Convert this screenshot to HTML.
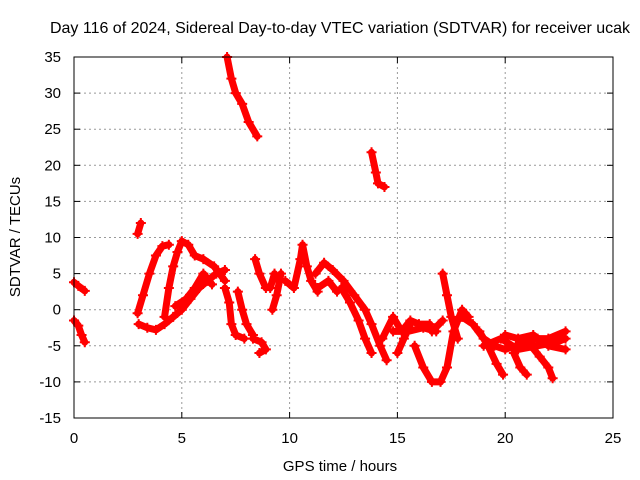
<!DOCTYPE html>
<html><head><meta charset="utf-8"><style>
body{margin:0;background:#fff}
svg{display:block;font-family:"Liberation Sans",sans-serif;font-size:15px}
</style></head><body>
<svg id="chart" width="640" height="480" viewBox="0 0 640 480">
<text x="340" y="33" text-anchor="middle" font-size="16">Day 116 of 2024, Sidereal Day-to-day VTEC variation (SDTVAR) for receiver ucak</text>
<text x="340" y="471" text-anchor="middle">GPS time / hours</text>
<text transform="translate(20,237) rotate(-90)" text-anchor="middle">SDTVAR / TECUs</text>
<g id="grid"></g><g id="ticks"></g><g id="marks"></g>
<rect x="74" y="57" width="539" height="361" fill="none" stroke="#000" stroke-width="1"/>
</svg>
<script>
const xTicks=[0,5,10,15,20,25];
const yTicks=[-15,-10,-5,0,5,10,15,20,25,30,35];
const tracks=[
[[0,3.8],[0.2,3.3],[0.5,2.6]],
[[0,-1.5],[0.2,-2.2],[0.35,-3.5],[0.5,-4.5]],
[[2.95,10.5],[3.1,12]],
[[2.95,-0.5],[3.2,2],[3.5,5],[3.8,7.5],[4.1,8.8],[4.4,9]],
[[3.0,-2],[3.4,-2.5],[3.8,-2.8],[4.2,-2],[4.6,-1],[5.0,0],[5.4,1.5],[5.8,3],[6.2,4],[6.6,5],[7,5.5]],
[[4.2,-1],[4.4,3],[4.6,6],[4.8,8],[5.0,9.5],[5.3,9],[5.6,7.5],[6,7],[6.5,6],[7,4]],
[[4.7,0.5],[5.2,1.5],[5.6,3],[6,5],[6.4,3.5]],
[[7,3],[7.2,1],[7.3,-2],[7.5,-3.5],[7.9,-4]],
[[7.6,2.5],[7.8,0],[8,-2],[8.3,-3.5]],
[[8.4,7],[8.6,5],[8.9,3]],
[[8.3,-4],[8.7,-4.5],[8.9,-5.5],[8.6,-6]],
[[9.1,3],[9.3,5],[9.5,4]],
[[9.2,0],[9.4,2],[9.6,5]],
[[7.1,35],[7.3,32],[7.5,30],[7.8,28.5],[8.1,26],[8.5,24]],
[[13.8,21.8],[14,19],[14.1,17.5],[14.4,17]],
[[9.8,4],[10.2,3],[10.5,7],[10.6,9],[10.8,6],[11,4],[11.3,2.5]],
[[11.2,5],[11.6,6.5],[12,5.5],[12.5,4],[13,2],[13.5,0],[13.8,-2],[14.2,-5],[14.5,-7]],
[[11.3,3],[11.8,4],[12.2,2.5]],
[[12.4,3],[12.8,1],[13.2,-1.5],[13.5,-4],[13.8,-6]],
[[14.3,-4],[14.8,-1],[15.2,-3],[15.6,-1.5],[16,-2],[16.5,-2]],
[[15,-6],[15.3,-4],[15.6,-2]],
[[14.8,-3],[15.5,-3],[16.2,-2.5],[16.8,-3]],
[[15.8,-5],[16.2,-8],[16.6,-10],[17,-10],[17.3,-8],[17.6,-3],[18,0],[18.3,-1]],
[[17.1,5],[17.3,2],[17.5,-1],[17.8,-4]],
[[16.6,-3],[17.1,-1.5]],
[[18,-1],[18.5,-2],[19,-4],[19.5,-5],[20,-5.5],[20.5,-5],[21,-4.5],[21.5,-4],[22,-4],[22.8,-3]],
[[18.8,-3],[19.2,-5],[19.6,-7.5],[19.9,-9]],
[[20.4,-6],[20.7,-8],[21,-9]],
[[21.2,-5],[21.6,-6.5],[22,-8],[22.2,-9.5]],
[[20,-3.5],[20.6,-4],[21.3,-3.5],[22,-5],[22.8,-5.5]],
[[19,-5],[19.8,-4],[20.6,-5.5],[21.5,-5],[22.4,-4.5],[22.8,-4]]
];
const NS="http://www.w3.org/2000/svg";
const X=t=>74+t*(539/25), Y=v=>418-(v+15)*(361/50);
const grid=document.getElementById('grid'),ticks=document.getElementById('ticks'),marks=document.getElementById('marks');
function mk(tag,attrs,parent){const e=document.createElementNS(NS,tag);for(const k in attrs)e.setAttribute(k,attrs[k]);parent.appendChild(e);return e;}
xTicks.forEach(t=>{
 if(t>0&&t<25){const g=mk('line',{x1:X(t),x2:X(t),y1:57,y2:418,stroke:'#999','stroke-dasharray':'2,3'},grid);
 
 }
 mk('line',{x1:X(t),x2:X(t),y1:418,y2:412,stroke:'#000'},ticks);mk('line',{x1:X(t),x2:X(t),y1:57,y2:63,stroke:'#000'},ticks);
 const l=mk('text',{x:X(t),y:443,'text-anchor':'middle'},ticks);l.textContent=t;
 
 
});
yTicks.forEach(v=>{
 if(v>-15&&v<35){const g=mk('line',{x1:74,x2:613,y1:Y(v),y2:Y(v),stroke:'#999','stroke-dasharray':'2,3'},grid);
 
 }
 mk('line',{x1:74,x2:80,y1:Y(v),y2:Y(v),stroke:'#000'},ticks);mk('line',{x1:613,x2:607,y1:Y(v),y2:Y(v),stroke:'#000'},ticks);
 const l=mk('text',{x:61,y:Y(v)+5,'text-anchor':'end'},ticks);l.textContent=v;
 
 
});
tracks.forEach(tr=>{
 const p=mk('polyline',{points:tr.map(d=>X(d[0])+','+Y(d[1])).join(' '),fill:'none',stroke:'#f00','stroke-width':7,'stroke-linejoin':'round','stroke-linecap':'round'},marks);
 
 
 tr.forEach(d=>{const m=mk('path',{d:`M${X(d[0])-5},${Y(d[1])}h10M${X(d[0])},${Y(d[1])-5}v10`,stroke:'#f00','stroke-width':2},marks);
 
 });
});
</script>
</body></html>
